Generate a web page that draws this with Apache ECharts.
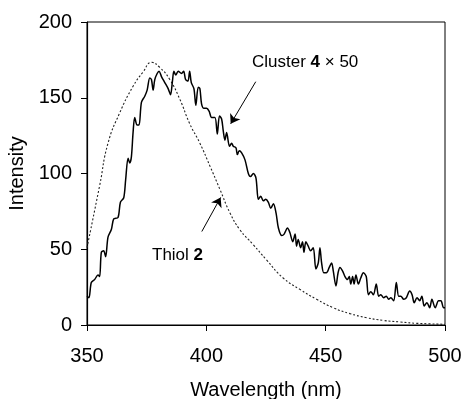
<!DOCTYPE html>
<html>
<head>
<meta charset="utf-8">
<script src="https://cdn.jsdelivr.net/npm/echarts@6/dist/echarts.min.js"></script>
<style>
html, body { margin: 0; padding: 0; background: #fff; }
#main { width: 461px; height: 399px; }
</style>
</head>
<body>
<div id="main"></div>
<script>
// Thiol 2 emission (dotted)
var thiolNm  = [350, 355.3, 358.8, 363.7, 369.3, 373.5, 377, 380.5, 384.7, 388.9, 393, 397.3, 401.5, 405.7, 409.9, 414, 419.7, 425.2, 432.2, 439.2, 446.2, 453.2, 460.2, 467.2, 474.2, 481.2, 488.2, 500];
var thiolVal = [51, 92, 120, 140, 157.6, 167, 173.4, 170, 162, 149, 133, 120, 105, 89.5, 74, 63, 53, 43, 31, 23.5, 17, 11.4, 7.5, 4.8, 3, 2, 1.1, 0.5];

// Cluster 4 x 50 emission (solid)
var clusterNm = [350, 350.8, 351.8, 353.2, 354.6, 355.3, 356, 357, 357.8, 358.8, 360.2, 361.2, 363, 364, 365.4, 366.2, 367.2, 367.9, 368.6, 369.3,
  370, 371, 371.8, 372.8, 374.2, 375.2, 376.3, 377, 377.7, 378.4, 379.4, 380.2, 381.2, 382.6, 384, 385, 385.8, 386.4, 387.2, 388.2,
  389.6, 390.5, 391.3, 392.3, 393, 393.7, 394.8, 395.6, 396.6, 397.3, 398, 399, 400.1, 401.2, 402.2, 403.6, 404.6, 405.5, 406.4, 407.1,
  407.8, 408.5, 409.7, 410.6, 411.3, 412.4, 413, 413.8, 414.8, 416.2, 417.6, 418.5, 419.7, 420.8, 421.8, 422.8, 423.9, 424.9, 426, 427,
  428.1, 429.2, 430.2, 431.6, 432.6, 434, 435, 436.2, 437.2, 437.8, 438.5, 439.5, 440.3, 440.9, 441.7, 442.7, 443.7, 444.8, 445.9, 446.9,
  447.6, 448.3, 449.2, 450.3, 451.5, 452.5, 453.2, 454.3, 455.2, 456, 457.1, 458.1, 459.1, 459.9, 460.5, 461.3, 461.9, 462.7, 463.7, 464.7,
  465.8, 467, 467.9, 468.9, 470, 471.2, 472.2, 473.1, 474.3, 475.4, 476.4, 477.3, 478.5, 479.6, 480.6, 481.5, 482.7, 483.8, 485.2, 486.2,
  487.1, 488.3, 489.4, 490.3, 491.3, 492.4, 493.6, 494.5, 495.9, 497.3, 498.3, 499.4, 500];
var clusterVal = [19, 18, 28, 30, 33, 32, 48, 49, 45, 58, 63, 70, 71, 81, 84, 96, 110, 107, 111, 127,
  137, 132, 132, 147, 151, 155, 163, 162, 155, 162, 166, 167.5, 164, 160, 156, 152, 161, 167.5, 165, 167.5,
  166, 167.5, 162, 161, 167.5, 160, 156, 145, 157, 156, 146, 143, 143, 141, 137, 137, 126, 138, 136, 128,
  122, 127, 118, 120, 118, 117, 112.5, 115, 113.6, 109, 100, 98, 100, 97, 83, 85, 82, 83, 81, 77,
  80, 74, 64, 59, 60, 64, 61, 55, 60, 52, 56.5, 51, 55, 48, 55, 52, 49, 51, 37, 41,
  51, 41, 34.5, 34.5, 38, 41, 35.6, 25.7, 34.5, 38, 35.6, 32, 30, 32, 27, 32, 27, 33, 27, 31,
  34.5, 32, 20, 22, 20, 27, 19, 20, 18, 19, 17, 18, 16, 28, 19, 19, 17, 18, 22.4, 20,
  14.7, 18, 16, 19, 12.5, 14.7, 11.4, 17, 11.4, 16, 16, 11.4, 11.4];

var xTicks = [350, 400, 450, 500];
var yTicks = [0, 50, 100, 150, 200];

// arrows: [from, to] in data coords
var clusterArrow = [[420.7, 160.6], [410.2, 132.8]];
var thiolArrow   = [[398.1, 61.7], [406, 84.2]];

function pairs(xs, ys) {
  var out = [];
  for (var i = 0; i < xs.length; i++) out.push([xs[i], ys[i]]);
  return out;
}

var font = '"Liberation Sans", Arial, sans-serif';
var myChart = echarts.init(document.getElementById('main'));

var option = {
  animation: false,
  backgroundColor: '#fff',
  grid: {
    left: 87, right: 16, top: 22, bottom: 74,
    outerBoundsMode: 'none', containLabel: false,
    show: true, borderColor: '#000', borderWidth: 1
  },
  xAxis: {
    type: 'value', min: xTicks[0], max: xTicks[xTicks.length - 1], interval: 50,
    name: 'Wavelength (nm)', nameLocation: 'middle', nameGap: 55,
    nameTextStyle: { color: '#000', fontSize: 20, fontFamily: font },
    axisLine: { show: true, lineStyle: { color: '#000', width: 1.2 } },
    axisTick: { show: true, length: 6, lineStyle: { color: '#000' } },
    axisLabel: { color: '#000', fontSize: 20, fontFamily: font, margin: 21 },
    splitLine: { show: false }
  },
  yAxis: {
    type: 'value', min: yTicks[0], max: yTicks[yTicks.length - 1], interval: 50,
    name: 'Intensity', nameLocation: 'middle', nameGap: 60,
    nameTextStyle: { color: '#000', fontSize: 20, fontFamily: font },
    axisLine: { show: true, lineStyle: { color: '#000', width: 1.2 } },
    axisTick: { show: true, length: 6, lineStyle: { color: '#000' } },
    axisLabel: { color: '#000', fontSize: 20, fontFamily: font, margin: 15 },
    splitLine: { show: false }
  },
  series: [
    {
      name: 'Thiol 2', type: 'line', showSymbol: false, smooth: true,
      data: pairs(thiolNm, thiolVal),
      lineStyle: { color: '#222', width: 1.1, type: [2, 2] },
      markLine: {
        silent: true, symbol: ['none', 'arrow'], symbolSize: 9,
        label: { show: false },
        lineStyle: { color: '#000', width: 1, type: 'solid' },
        data: [[{ coord: thiolArrow[0] }, { coord: thiolArrow[1] }]]
      }
    },
    {
      name: 'Cluster 4 x 50', type: 'line', showSymbol: false, smooth: 0.3,
      data: pairs(clusterNm, clusterVal),
      lineStyle: { color: '#000', width: 1.5 },
      markLine: {
        silent: true, symbol: ['none', 'arrow'], symbolSize: 9,
        label: { show: false },
        lineStyle: { color: '#000', width: 1, type: 'solid' },
        data: [[{ coord: clusterArrow[0] }, { coord: clusterArrow[1] }]]
      }
    }
  ],
  graphic: [
    {
      type: 'text', left: 252, top: 54,
      style: {
        text: 'Cluster {b|4} × 50', fontSize: 17, fontFamily: font, fill: '#000',
        rich: { b: { fontSize: 17, fontWeight: 'bold', fontFamily: font, fill: '#000' } }
      }
    },
    {
      type: 'text', left: 152, top: 247,
      style: {
        text: 'Thiol {b|2}', fontSize: 17, fontFamily: font, fill: '#000',
        rich: { b: { fontSize: 17, fontWeight: 'bold', fontFamily: font, fill: '#000' } }
      }
    }
  ]
};

myChart.setOption(option);
</script>
</body>
</html>
